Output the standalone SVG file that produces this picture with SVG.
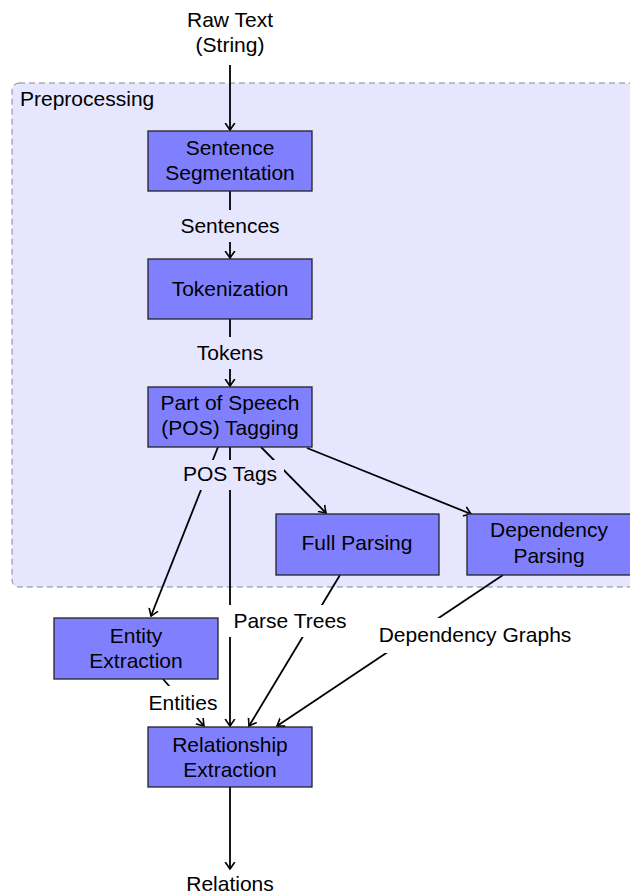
<svg xmlns="http://www.w3.org/2000/svg" width="630" height="894" viewBox="0 0 630 894">
<style>
text{font-family:"Liberation Sans",Arial,sans-serif;font-size:21px;fill:#000;text-anchor:middle}
.node rect{fill:#8080ff;stroke:#222;stroke-width:1.3}
.e{stroke:#000;stroke-width:1.8;fill:none;marker-end:url(#arr)}
.bgl{fill:#e6e6ff}
.bgw{fill:#fff}
</style>
<defs>
<marker id="arr" viewBox="-7 -6 8 12" refX="0" refY="0" markerWidth="8" markerHeight="12" markerUnits="userSpaceOnUse" orient="auto">
<path d="M-6.5,-4.5 Q-1.8,-1.2 0,0 Q-1.8,1.2 -6.5,4.5" fill="none" stroke="#000" stroke-width="1.6" stroke-linecap="round"/>
</marker>
</defs>
<rect width="630" height="894" fill="#fff"/>
<g id="preprocessing">
<rect x="12" y="83" width="640" height="504" rx="7" fill="#e6e6ff" stroke="#888" stroke-width="1" stroke-dasharray="6,4"/>
<text x="20" y="106" style="text-anchor:start">Preprocessing</text>
</g>
<g id="connectors">
<line class="e" x1="230" y1="65" x2="230" y2="130"/>
<line class="e" x1="230" y1="191" x2="230" y2="258"/>
<line class="e" x1="230" y1="319" x2="230" y2="386"/>
<line class="e" x1="218" y1="447" x2="151" y2="616"/>
<line class="e" x1="230" y1="447" x2="230" y2="726"/>
<line class="e" x1="261" y1="447" x2="326" y2="513"/>
<line class="e" x1="307" y1="448" x2="471" y2="514"/>
<line class="e" x1="340" y1="575" x2="249" y2="726"/>
<line class="e" x1="503" y1="575" x2="277" y2="726"/>
<line class="e" x1="163" y1="679" x2="204" y2="726"/>
<line class="e" x1="230" y1="787" x2="230" y2="869"/>
<rect class="bgl" x="174" y="210" width="112" height="32"/>
<text x="230" y="233">Sentences</text>
<rect class="bgl" x="191" y="337" width="78" height="32"/>
<text x="230" y="360">Tokens</text>
<rect class="bgl" x="176" y="460" width="108" height="30"/>
<text x="230" y="481">POS Tags</text>
<rect class="bgw" x="228" y="605" width="124" height="32"/>
<text x="290" y="628">Parse Trees</text>
<rect class="bgw" x="370" y="618" width="210" height="35"/>
<text x="475" y="642">Dependency Graphs</text>
<rect class="bgw" x="143" y="686" width="80" height="32"/>
<text x="183" y="710">Entities</text>
</g>
<g id="raw-text">
<text x="230" y="27">Raw Text</text>
<text x="230" y="52">(String)</text>
</g>
<g id="sentence-segmentation" class="node">
<rect x="148" y="131" width="164" height="60"/>
<text x="230" y="155">Sentence</text>
<text x="230" y="180">Segmentation</text>
</g>
<g id="tokenization" class="node">
<rect x="148" y="259" width="164" height="60"/>
<text x="230" y="296">Tokenization</text>
</g>
<g id="pos-tagging" class="node">
<rect x="148" y="387" width="164" height="60"/>
<text x="230" y="410">Part of Speech</text>
<text x="230" y="435">(POS) Tagging</text>
</g>
<g id="full-parsing" class="node">
<rect x="276" y="514" width="163" height="61"/>
<text x="357" y="550">Full Parsing</text>
</g>
<g id="dependency-parsing" class="node">
<rect x="467" y="514" width="164" height="61"/>
<text x="549" y="537">Dependency</text>
<text x="549" y="563">Parsing</text>
</g>
<g id="entity-extraction" class="node">
<rect x="54" y="618" width="164" height="61"/>
<text x="136" y="643">Entity</text>
<text x="136" y="668">Extraction</text>
</g>
<g id="relationship-extraction" class="node">
<rect x="148" y="727" width="164" height="60"/>
<text x="230" y="752">Relationship</text>
<text x="230" y="777">Extraction</text>
</g>
<g id="relations">
<text x="230" y="891">Relations</text>
</g>
</svg>
